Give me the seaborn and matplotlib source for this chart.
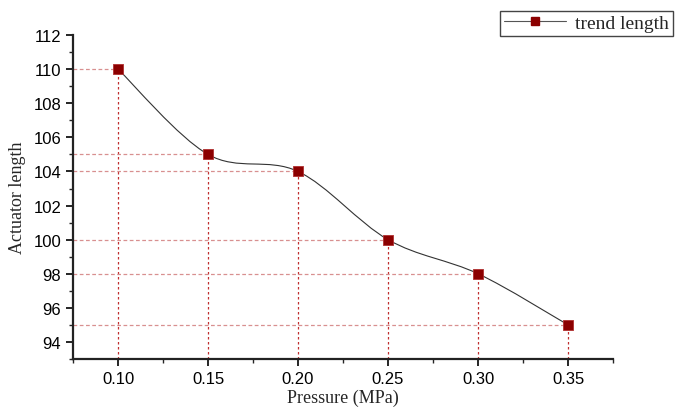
import numpy as np
import pandas as pd
import seaborn as sns
import matplotlib.pyplot as plt
from matplotlib.path import Path
from matplotlib.patches import PathPatch
from matplotlib.lines import Line2D
from matplotlib.ticker import MultipleLocator, FormatStrFormatter

pressure = [0.10, 0.15, 0.20, 0.25, 0.30, 0.35]
length = [110, 105, 104, 100, 98, 95]

df = pd.DataFrame({'Pressure': pressure, 'Length': length})

sns.set_style('ticks')
plt.rcParams['font.family'] = ['Liberation Sans', 'DejaVu Sans']

fig = plt.figure(figsize=(6.85, 4.10), dpi=100)
ax = fig.add_axes([0.1066, 0.122, 0.7884, 0.79])

xmin, ymin = 0.075, 93

# drop lines to the axes
ax.vlines(df['Pressure'], ymin, df['Length'], colors='#c03030', linestyles=(0, (2, 2)), linewidth=0.9, zorder=1)
ax.hlines(df['Length'], xmin, df['Pressure'], colors='#d89090', linestyles=(0, (3, 2)), linewidth=0.9, zorder=1)

# smooth curve through the points (Catmull-Rom as cubic Bezier)
pts = df[['Pressure', 'Length']].to_numpy()
ext = np.vstack([pts[0], pts, pts[-1]])
verts = [tuple(pts[0])]
codes = [Path.MOVETO]
for i in range(1, len(ext) - 2):
    p0, p1, p2, p3 = ext[i - 1], ext[i], ext[i + 1], ext[i + 2]
    c1 = p1 + (p2 - p0) / 6
    c2 = p2 - (p3 - p1) / 6
    verts += [tuple(c1), tuple(c2), tuple(p2)]
    codes += [Path.CURVE4] * 3
ax.add_patch(PathPatch(Path(verts, codes), facecolor='none', edgecolor='#333333', linewidth=0.8, zorder=2))

sns.scatterplot(data=df, x='Pressure', y='Length', marker='s', s=45, color='#8b0000',
                edgecolor='#b03030', linewidth=0.6, zorder=3, ax=ax, legend=False)

ax.set_xlim(xmin, 0.375)
ax.set_ylim(ymin, 112)
ax.xaxis.set_minor_locator(MultipleLocator(0.025))
ax.xaxis.set_major_formatter(FormatStrFormatter('%.2f'))
ax.yaxis.set_minor_locator(MultipleLocator(1))
ax.set_xticks([0.10, 0.15, 0.20, 0.25, 0.30, 0.35])
ax.set_yticks(np.arange(94, 113, 2))

ax.tick_params(which='major', direction='out', length=5, width=1.2, labelsize=12, colors='black')
ax.tick_params(which='minor', direction='out', length=3, width=1.0)
for s in ['left', 'bottom']:
    ax.spines[s].set_linewidth(1.6)
    ax.spines[s].set_color('#222222')
sns.despine(ax=ax)

ax.set_xlabel('Pressure (MPa)', family='Liberation Serif', fontsize=13, labelpad=2)
ax.set_ylabel('Actuator length', family='Liberation Serif', fontsize=13, labelpad=5)

handle = Line2D([], [], color='#555555', linewidth=0.8, marker='s', markersize=6,
                markerfacecolor='#8b0000', markeredgecolor='#8b0000')
fig.legend([handle], ['trend length'], loc='upper right', bbox_to_anchor=(0.997, 0.995),
           frameon=True, fancybox=False, edgecolor='#444444', framealpha=1,
           prop={'family': 'Liberation Serif', 'size': 14}, handlelength=3.2,
           borderpad=0.2, handletextpad=0.5)

plt.savefig('out.png', dpi=100)
